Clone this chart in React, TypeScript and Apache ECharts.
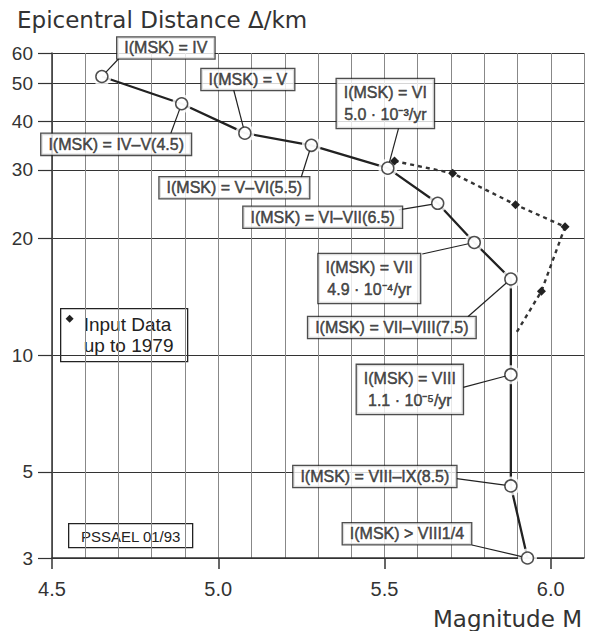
import React, { useEffect, useRef } from 'react';
import * as echarts from 'echarts';

// ---- data ----
const magnitudes = [4.65, 4.89, 5.08, 5.28, 5.51, 5.66, 5.77, 5.88, 5.88, 5.88, 5.93];
const distances = [52.2, 44.4, 37.3, 34.7, 30.3, 24.6, 19.5, 15.7, 8.9, 4.6, 3.0];
const intensityLabels = [
  'I(MSK) = IV',
  'I(MSK) = IV–V(4.5)',
  'I(MSK) = V',
  'I(MSK) = V–VI(5.5)',
  'I(MSK) = VI\n5.0 · 10⁻³/yr',
  'I(MSK) = VI–VII(6.5)',
  'I(MSK) = VII\n4.9 · 10⁻⁴/yr',
  'I(MSK) = VII–VIII(7.5)',
  'I(MSK) = VIII\n1.1 · 10⁻⁵/yr',
  'I(MSK) = VIII–IX(8.5)',
  'I(MSK) > VIII1/4',
];
const inputMagnitudes = [5.53, 5.705, 5.894, 6.043, 5.972, 5.896];
const inputDistances = [31.6, 29.4, 24.4, 21.4, 14.6, 11.4];
const xTickLabels = [4.5, 5.0, 5.5, 6.0];
const yTickLabels = [3, 5, 10, 20, 30, 40, 50, 60];

// ---- layout: label box centre offsets from their point (px), leader attach offsets from box centre (px) ----
const labelOffsets: number[][] = [
  [64, -28.5], [-65.5, 40.6], [3, -53.7], [-77, 42.5], [-2.5, -64.7], [-115, 14],
  [-105, 36], [-119, 48.5], [-101, 14.7], [-136, -9.5], [-120.5, -24.2],
];
const labelAttach: number[][] = [
  [-47, 10.5], [54.5, -10.6], [-14.2, 10.3], [66.7, -10.1], [13.2, 25], [76, -7.5],
  [53, -24.5], [76, -10.8], [53.3, -2], [81.8, 2.1], [65, 11.2],
];

const FONT = '"Liberation Sans", Arial, Helvetica, sans-serif';
const WIDE = '"DejaVu Sans", Verdana, sans-serif';
const INK = '#222';
const CIRCLE_R = 6;

export default function App() {
  const ref = useRef<HTMLDivElement>(null);
  useEffect(() => {
    if (!ref.current) return;
    const chart = echarts.init(ref.current, null, { renderer: 'svg' });
    const mainData = magnitudes.map((m, i) => [m, distances[i]]);
    const circleData = magnitudes.map((m, i) => {
      const two = intensityLabels[i].includes('\n');
      return {
        value: [m, distances[i]],
        label: two ? { lineHeight: 22, padding: [3, 7, 2, 7] } : { lineHeight: 18, padding: [2, 7, 1, 7] },
      };
    });
    const inputData = inputMagnitudes.map((m, i) => ({
      value: [m, inputDistances[i]],
      symbol: i === inputMagnitudes.length - 1 ? 'none' : 'diamond',
    }));
    chart.setOption({
      animation: false,
      backgroundColor: '#fff',
      textStyle: { fontFamily: FONT },
      title: {
        text: 'Epicentral Distance Δ/km',
        left: 12,
        top: 3,
        textStyle: { fontSize: 23, fontWeight: 'normal', color: '#333', fontFamily: WIDE },
      },
      grid: { left: 52, right: 12, top: 53, bottom: 73, outerBoundsMode: 'none' },
      xAxis: [
        {
          type: 'value',
          min: 4.5,
          max: 6.1,
          interval: 0.1,
          axisLine: { show: true, lineStyle: { color: '#333', width: 1.5 } },
          axisTick: { show: false },
          axisLabel: { show: false },
          splitLine: { show: true, lineStyle: { color: '#888', width: 1 } },
        },
        {
          type: 'value',
          min: 4.5,
          max: 6.1,
          position: 'bottom',
          axisLine: { show: false },
          axisTick: { show: true, customValues: xTickLabels, length: 11, lineStyle: { color: '#333', width: 1.5 } },
          axisLabel: {
            show: true,
            customValues: xTickLabels,
            formatter: (v: number) => v.toFixed(1),
            fontSize: 20,
            margin: 21,
            color: '#333',
            fontFamily: FONT,
          },
          splitLine: { show: false },
          name: 'Magnitude M',
          nameLocation: 'end',
          nameGap: -2,
          nameTextStyle: {
            fontSize: 23,
            color: '#333',
            align: 'right',
            verticalAlign: 'top',
            padding: [49, 0, 0, 0],
            fontFamily: WIDE,
          },
        },
      ],
      yAxis: {
        type: 'log',
        logBase: 10,
        min: 3,
        max: 60,
        axisLine: { show: true, lineStyle: { color: '#333', width: 1.5 } },
        axisTick: { show: true, customValues: yTickLabels, length: 14, lineStyle: { color: '#333', width: 1.2 } },
        axisLabel: { show: true, customValues: yTickLabels, fontSize: 19, margin: 19, color: '#333', fontFamily: FONT },
        splitLine: { show: true, lineStyle: { color: '#333', width: 1.2 } },
        minorSplitLine: { show: false },
      },
      series: [
        {
          type: 'line',
          data: mainData,
          symbol: 'none',
          lineStyle: { color: INK, width: 2.3 },
          z: 2,
          silent: true,
        },
        {
          type: 'scatter',
          data: mainData,
          symbolSize: 19,
          itemStyle: { color: '#fff' },
          z: 3,
          silent: true,
        },
        {
          type: 'line',
          data: inputData,
          symbolSize: 9,
          lineStyle: { color: '#333', width: 2.4, type: [4, 4] },
          itemStyle: { color: INK },
          z: 5,
          silent: true,
        },
        {
          // leader lines from each circle to its label box
          type: 'custom',
          data: mainData,
          z: 5.5,
          silent: true,
          renderItem: (params: any, api: any) => {
            const i = params.dataIndex;
            const p = api.coord([api.value(0), api.value(1)]);
            const off = labelOffsets[i];
            const at = labelAttach[i];
            const ax = p[0] + off[0] + at[0];
            const ay = p[1] + off[1] + at[1];
            const d = Math.hypot(ax - p[0], ay - p[1]) || 1;
            const ex = p[0] + ((ax - p[0]) / d) * CIRCLE_R;
            const ey = p[1] + ((ay - p[1]) / d) * CIRCLE_R;
            return {
              type: 'line',
              shape: { x1: ex, y1: ey, x2: ax, y2: ay },
              style: { stroke: INK, lineWidth: 1.2 },
            };
          },
        },
        {
          type: 'scatter',
          data: circleData,
          symbol: 'circle',
          symbolSize: 12,
          itemStyle: { color: '#fff', borderColor: INK, borderWidth: 1.5 },
          z: 6,
          silent: true,
          label: {
            show: true,
            formatter: (p: any) => intensityLabels[p.dataIndex],
            fontFamily: FONT,
            fontSize: 16,
            color: INK,
            backgroundColor: '#fff',
            borderColor: INK,
            borderWidth: 1.3,
            textBorderColor: INK,
            textBorderWidth: 0.5,
          },
          labelLayout: (p: any) => {
            const off = labelOffsets[p.dataIndex];
            const cx = p.rect.x + p.rect.width / 2;
            const cy = p.rect.y + p.rect.height / 2;
            return { x: cx + off[0], y: cy + off[1], align: 'center', verticalAlign: 'middle' };
          },
        },
      ],
      graphic: [
        {
          type: 'group',
          left: 60,
          top: 308,
          children: [
            { type: 'rect', shape: { x: 0, y: 0, width: 127, height: 53 }, style: { fill: '#fff', stroke: INK, lineWidth: 1.3 } },
            { type: 'polygon', shape: { points: [[9, 6], [13, 10], [9, 14], [5, 10]] }, style: { fill: INK } },
            {
              type: 'text',
              x: 23,
              y: 5,
              style: { text: 'Input Data\nup to 1979', lineHeight: 21, fill: INK, font: `19px ${FONT}`, verticalAlign: 'top' },
            },
          ],
        },
        {
          type: 'group',
          left: 68,
          top: 523,
          children: [
            { type: 'rect', shape: { x: 0, y: 0, width: 124, height: 24 }, style: { fill: '#fff', stroke: INK, lineWidth: 1.3 } },
            {
              type: 'text',
              x: 62,
              y: 12.5,
              style: { text: 'PSSAEL 01/93', fill: INK, font: `15px ${FONT}`, align: 'center', verticalAlign: 'middle' },
            },
          ],
        },
      ],
    });
    return () => chart.dispose();
  }, []);
  return <div ref={ref} style={{ position: 'absolute', left: 0, top: 0, width: 596, height: 631, background: '#fff' }} />;
}
